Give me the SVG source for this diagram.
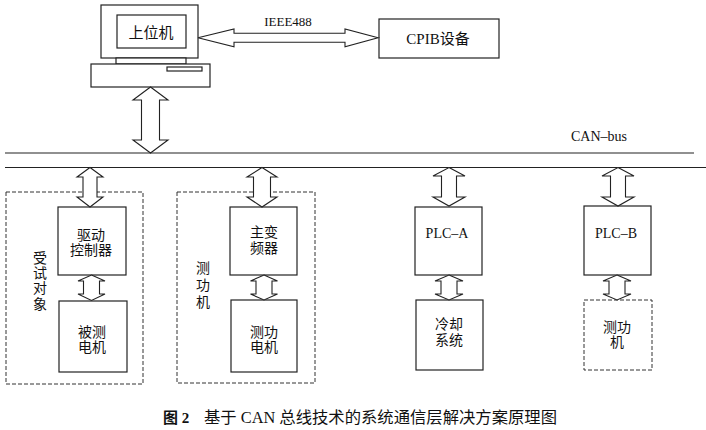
<svg xmlns="http://www.w3.org/2000/svg" width="706" height="430" viewBox="0 0 706 430">
<style>
.b{fill:#fff;stroke:#222;stroke-width:1.2}
.d{fill:none;stroke:#333;stroke-width:1;stroke-dasharray:4,2}
.a{fill:#fff;stroke:#222;stroke-width:1.1;stroke-linejoin:miter}
.l{stroke:#222;stroke-width:1.2;fill:none}
text{font-family:"Liberation Serif","Noto Sans CJK SC",serif;font-size:14px;fill:#111;text-anchor:middle}
.s{font-size:13px}
.c{font-size:15px}
</style>
<rect width="706" height="430" fill="#fff"/>
<g id="computer">
<rect class="b" x="101" y="5" width="97" height="53"/>
<rect class="b" x="117" y="15" width="69" height="33"/>
<rect class="b" x="116" y="58" width="70" height="6"/>
<rect class="b" x="91" y="64" width="119" height="23"/>
<rect class="b" x="167" y="67" width="35" height="4"/>
<text x="151" y="38" class="c">上位机</text>
</g>
<g id="gpib">
<rect class="b" x="379" y="19" width="120" height="39"/>
<text x="438" y="44" class="c">CPIB设备</text>
</g>
<g id="bus">
<line class="l" x1="5" y1="153" x2="694" y2="153"/>
<line class="l" x1="5" y1="167.5" x2="706" y2="167.5"/>
<text x="599" y="141">CAN–bus</text>
</g>
<g id="group1">
<rect class="d" x="6" y="192" width="137" height="192"/>
<text x="40" y="263">受</text>
<text x="40" y="278">试</text>
<text x="40" y="293">对</text>
<text x="40" y="309">象</text>
</g>
<g id="drive">
<rect class="b" x="58" y="207" width="68" height="68"/>
<text x="91" y="240">驱动</text>
<text x="91" y="255">控制器</text>
</g>
<g id="motor">
<rect class="b" x="59" y="301" width="68" height="71"/>
<text x="92" y="337">被测</text>
<text x="92" y="352">电机</text>
</g>
<g id="group2">
<rect class="d" x="177" y="192" width="138" height="191"/>
<text x="203" y="273">测</text>
<text x="203" y="290">功</text>
<text x="203" y="307">机</text>
</g>
<g id="inverter">
<rect class="b" x="230" y="207" width="67" height="68"/>
<text x="264" y="237">主变</text>
<text x="264" y="253">频器</text>
</g>
<g id="dynomotor">
<rect class="b" x="231" y="300" width="66" height="72"/>
<text x="264" y="337">测功</text>
<text x="264" y="352">电机</text>
</g>
<g id="plca">
<rect class="b" x="415" y="207" width="67" height="68"/>
<text x="447" y="238">PLC–A</text>
</g>
<g id="cooling">
<rect class="b" x="416" y="300" width="67" height="70"/>
<text x="449" y="329">冷却</text>
<text x="449" y="345">系统</text>
</g>
<g id="plcb">
<rect class="b" x="584" y="206" width="67" height="69"/>
<text x="616" y="238">PLC–B</text>
</g>
<g id="dyno">
<rect class="d" x="584" y="300" width="68" height="70"/>
<text x="617" y="332">测功</text>
<text x="617" y="347">机</text>
</g>
<g id="connectors">
<path class="a" d="M198,37.7 L234,29 L234,33.3 L345,33.3 L345,29 L378,37.7 L345,46.7 L345,42.3 L234,42.3 L234,46.7 Z"/>
<text x="288" y="26" class="s">IEEE488</text>
<path class="a" d="M150.5,87 L168,100 L159.5,100 L159.5,140 L168,140 L150.5,153 L133,140 L141.5,140 L141.5,100 L133,100 Z"/>
<path class="a" d="M90,167.5 L103,177 L97,177 L97,197 L103,197 L90,207 L77,197 L83,197 L83,177 L77,177 Z"/>
<path class="a" d="M262,167.5 L277,177 L270.5,177 L270.5,197 L277,197 L262,207 L247,197 L253.5,197 L253.5,177 L247,177 Z"/>
<path class="a" d="M449,167.5 L465,176 L456.5,176 L456.5,197 L465,197 L449,206 L433,197 L441.5,197 L441.5,176 L433,176 Z"/>
<path class="a" d="M618,167.5 L634,176 L625.5,176 L625.5,197 L634,197 L618,206 L602,197 L610.5,197 L610.5,176 L602,176 Z"/>
<path class="a" d="M91.5,275 L105,281 L99.5,281 L99.5,294 L105,294 L91.5,300.5 L78,294 L83.5,294 L83.5,281 L78,281 Z"/>
<path class="a" d="M264,275 L277.5,281 L272,281 L272,294 L277.5,294 L264,300 L250.5,294 L256,294 L256,281 L250.5,281 Z"/>
<path class="a" d="M449,275 L463,281 L457,281 L457,294 L463,294 L449,300 L435,294 L441,294 L441,281 L435,281 Z"/>
<path class="a" d="M617,275 L631,281 L625,281 L625,294 L631,294 L617,300 L603,294 L609,294 L609,281 L603,281 Z"/>
</g>
<g id="caption">
<text x="163" y="423" class="c" style="text-anchor:start;font-weight:bold">图 2</text>
<text x="204" y="423" class="c" style="text-anchor:start;font-size:16px" textLength="353" lengthAdjust="spacingAndGlyphs">基于 CAN 总线技术的系统通信层解决方案原理图</text>
</g>
</svg>
